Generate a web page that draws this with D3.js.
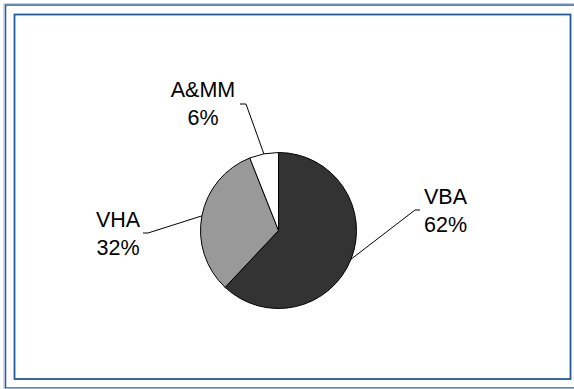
<!DOCTYPE html>
<head>
<meta charset="utf-8">
<script src="https://d3js.org/d3.v7.min.js"></script>
<style>
    body { margin: 0; background: #fff; }
    svg { display: block; }
    .lbl { font-family: "Liberation Sans", Arial, sans-serif; font-size: 21.5px; fill: #000; }
</style>
</head>
<body>
<div id="container"></div>
<script>
    // data
    var categories = ['VBA', 'VHA', 'A&MM'];
    var values = [62, 32, 6];
    var sliceColors = ['#333333', '#999999', '#ffffff'];

    // label placement (layout only)
    var labelPos = [
        {x: 445.5, y: 204, elbow: [415, 210], start: [420, 210]},
        {x: 118, y: 227, elbow: [148, 233], start: [143, 233]},
        {x: 203, y: 97, elbow: [246, 104], start: [240, 104]}
    ];

    var width = 574, height = 389;
    var cx = 278.5, cy = 230.5, r = 78;

    var svg = d3.select('#container').append('svg').attr('width', width).attr('height', height);

    // frames
    svg.append('rect').attr('x', 5.5).attr('y', 5).attr('width', 580).attr('height', 383)
        .attr('fill', 'none').attr('stroke', '#1f5aa3').attr('stroke-width', 1.5);
    svg.append('rect').attr('x', 4).attr('y', 3.8).attr('width', 580).attr('height', 384.6)
        .attr('fill', 'none').attr('stroke', '#9fb8d6').attr('stroke-width', 1);
    svg.append('rect').attr('x', 14.5).attr('y', 14.5).attr('width', 556).attr('height', 364.5)
        .attr('fill', 'none').attr('stroke', '#1f5aa3').attr('stroke-width', 1.8);

    var pie = d3.pie().sort(null).value(d => d);
    var arcs = pie(values);
    var arc = d3.arc().innerRadius(0).outerRadius(r);

    var g = svg.append('g').attr('transform', 'translate(' + cx + ',' + cy + ')');
    g.selectAll('path').data(arcs).enter().append('path')
        .attr('d', arc)
        .attr('fill', (d, i) => sliceColors[i])
        .attr('stroke', '#000')
        .attr('stroke-width', 1);

    // leader lines from slice mid-angle on the edge
    arcs.forEach(function(a, i) {
        var mid = (a.startAngle + a.endAngle) / 2;
        var ex = cx + Math.sin(mid) * r;
        var ey = cy - Math.cos(mid) * r;
        var p = labelPos[i];
        svg.append('polyline')
            .attr('points', [p.start, p.elbow, [ex, ey]].map(q => q.join(',')).join(' '))
            .attr('fill', 'none').attr('stroke', '#000').attr('stroke-width', 1);

        var t = svg.append('text').attr('class', 'lbl').attr('text-anchor', 'middle');
        t.append('tspan').attr('x', p.x).attr('y', p.y).text(categories[i]);
        t.append('tspan').attr('x', p.x).attr('y', p.y + 28).text(values[i] + '%');
    });
</script>
</body>
